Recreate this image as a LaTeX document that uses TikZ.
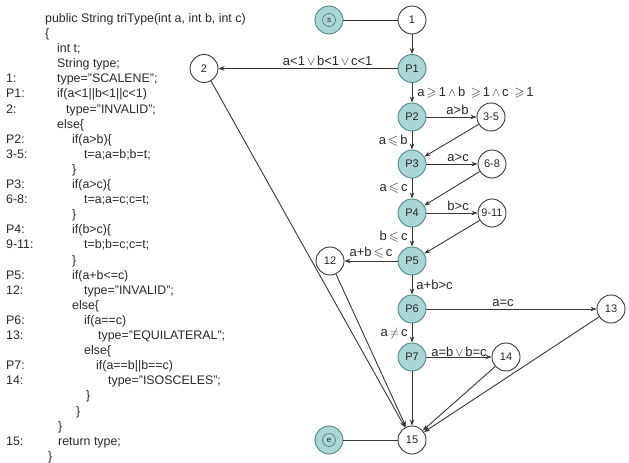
\documentclass[tikz,border=0pt]{standalone}
\usepackage{amssymb}
\usepackage{fontspec}
\setmainfont{Liberation Sans}
\usetikzlibrary{arrows.meta}
\definecolor{tealfill}{RGB}{170,214,214}
\definecolor{tealdark}{RGB}{84,132,132}
\definecolor{ln}{RGB}{55,55,55}
\definecolor{txt}{RGB}{40,40,40}
\newcommand{\cdln}[3]{\node[code] (cod#1) at (#2,{22.4+(#1-1)*15.1}) {#3};}
\newcommand{\lbln}[2]{\node[code] (lab#1) at (6,{22.4+(#1-1)*15.1}) {#2};}
\newcommand{\orr}{$\,\vee\,$}
\newcommand{\andd}{$\,\wedge\,$}
\newcommand{\geqs}{$\,\geqslant\,$}
\newcommand{\leqs}{$\,\leqslant\,$}
\begin{document}
\begin{tikzpicture}[x=1pt,y=-1pt,
  nd/.style={circle,draw=ln,line width=0.9pt,minimum size=28pt,inner sep=0pt,
    font=\fontsize{11}{11}\selectfont,fill=white,text=txt},
  pn/.style={nd,fill=tealfill,draw=tealdark},
  arr/.style={draw=ln,line width=0.9pt,-{Stealth[length=6pt,width=4.5pt]}},
  pl/.style={draw=ln,line width=0.9pt},
  el/.style={font=\fontsize{13}{14}\selectfont,inner sep=1pt,text=txt},
  code/.style={anchor=base west,inner sep=0pt,font=\fontsize{12.4}{14}\selectfont,text=txt},
]
\useasboundingbox (0,0) rectangle (629,463);
% ---------------- code listing ----------------
\cdln{1}{45}{public String triType(int a, int b, int c)}
\cdln{2}{45}{\{}
\cdln{3}{57}{int t;}
\cdln{4}{57}{String type;}
\lbln{5}{1:}   \cdln{5}{57}{type="SCALENE";}
\lbln{6}{P1:}  \cdln{6}{57}{if(a<1||b<1||c<1)}
\lbln{7}{2:}   \cdln{7}{66}{type="INVALID";}
\cdln{8}{57}{else\{}
\lbln{9}{P2:}  \cdln{9}{72}{if(a>b)\{}
\lbln{10}{3-5:} \cdln{10}{84}{t=a;a=b;b=t;}
\cdln{11}{72}{\}}
\lbln{12}{P3:} \cdln{12}{72}{if(a>c)\{}
\lbln{13}{6-8:} \cdln{13}{84}{t=a;a=c;c=t;}
\cdln{14}{72}{\}}
\lbln{15}{P4:} \cdln{15}{72}{if(b>c)\{}
\lbln{16}{9-11:} \cdln{16}{84}{t=b;b=c;c=t;}
\cdln{17}{72}{\}}
\lbln{18}{P5:} \cdln{18}{72}{if(a+b<=c)}
\lbln{19}{12:} \cdln{19}{84}{type="INVALID";}
\cdln{20}{72}{else\{}
\lbln{21}{P6:} \cdln{21}{84}{if(a==c)}
\lbln{22}{13:} \cdln{22}{98}{type="EQUILATERAL";}
\cdln{23}{84}{else\{}
\lbln{24}{P7:} \cdln{24}{96}{if(a==b||b==c)}
\lbln{25}{14:} \cdln{25}{108}{type="ISOSCELES";}
\cdln{26}{86}{\}}
\cdln{27}{76}{\}}
\cdln{28}{58}{\}}
\lbln{29}{15:} \cdln{29}{58}{return type;}
\cdln{30}{48}{\}}
% ---------------- graph nodes ----------------
\node[pn] (s) at (329,20) {};
\draw[tealdark,line width=0.7pt] (s.center) circle (6.5);
\node[inner sep=0pt,font=\fontsize{8}{8}\selectfont,text=txt] (stxt) at (s.center) {s};
\node[nd] (n1) at (412,20) {1};
\node[pn] (p1) at (412,68.5) {P1};
\node[nd] (n2) at (204,68.5) {2};
\node[pn] (p2) at (412,117) {P2};
\node[nd] (n35) at (491,117) {3-5};
\node[pn] (p3) at (412,164) {P3};
\node[nd] (n68) at (492,164) {6-8};
\node[pn] (p4) at (412,213) {P4};
\node[nd] (n911) at (492,213) {9-11};
\node[pn] (p5) at (412,261) {P5};
\node[nd] (n12) at (330,261) {12};
\node[pn] (p6) at (412,309) {P6};
\node[nd] (n13) at (611,309) {13};
\node[pn] (p7) at (412,357) {P7};
\node[nd] (n14) at (506,357) {14};
\node[nd] (n15) at (412,440) {15};
\node[pn] (e) at (329,440) {};
\draw[tealdark,line width=0.7pt] (e.center) circle (6.5);
\node[inner sep=0pt,font=\fontsize{8}{8}\selectfont,text=txt] (etxt) at (e.center) {e};
% ---------------- connectors ----------------
\draw[pl] (s) -- (n1);
\draw[arr] (n1) -- (p1);
\draw[arr] (p1) -- node[el,pos=0.39,above=1pt] {a<1\orr b<1\orr c<1} (n2);
\draw[arr] (p1) -- node[el,anchor=west,xshift=4pt] {a\geqs 1\andd b \geqs 1\andd c \geqs 1} (p2);
\draw[arr] (p2) -- node[el,pos=0.62,above=1pt] {a>b} (n35);
\draw[arr] (p2) -- node[el,anchor=east,xshift=-3pt] {a\leqs b} (p3);
\draw[arr] (n35) -- (p3);
\draw[arr] (p3) -- node[el,pos=0.62,above=1pt] {a>c} (n68);
\draw[arr] (p3) -- node[el,anchor=east,xshift=-3pt] {a\leqs c} (p4);
\draw[arr] (n68) -- (p4);
\draw[arr] (p4) -- node[el,pos=0.62,above=1pt] {b>c} (n911);
\draw[arr] (p4) -- node[el,anchor=east,xshift=-3pt] {b\leqs c} (p5);
\draw[arr] (n911) -- (p5);
\draw[arr] (p5) -- node[el,above=1pt] {a+b\leqs c} (n12);
\draw[arr] (p5) -- node[el,anchor=west,xshift=3pt] {a+b>c} (p6);
\draw[arr] (p6) -- node[el,pos=0.45,above=1pt] {a=c} (n13);
\draw[arr] (p6) -- node[el,anchor=east,xshift=-3pt] {a$\,\neq\,$c} (p7);
\draw[arr] (p7) -- node[el,above=-1pt] {a=b\orr b=c} (n14);
\draw[arr] (p7) -- (n15);
\draw[arr] (n2) -- (n15);
\draw[arr] (n12) -- (n15);
\draw[arr] (n13) -- (n15);
\draw[arr] (n14) -- (n15);
\draw[pl] (e) -- (n15);
\end{tikzpicture}
\end{document}
